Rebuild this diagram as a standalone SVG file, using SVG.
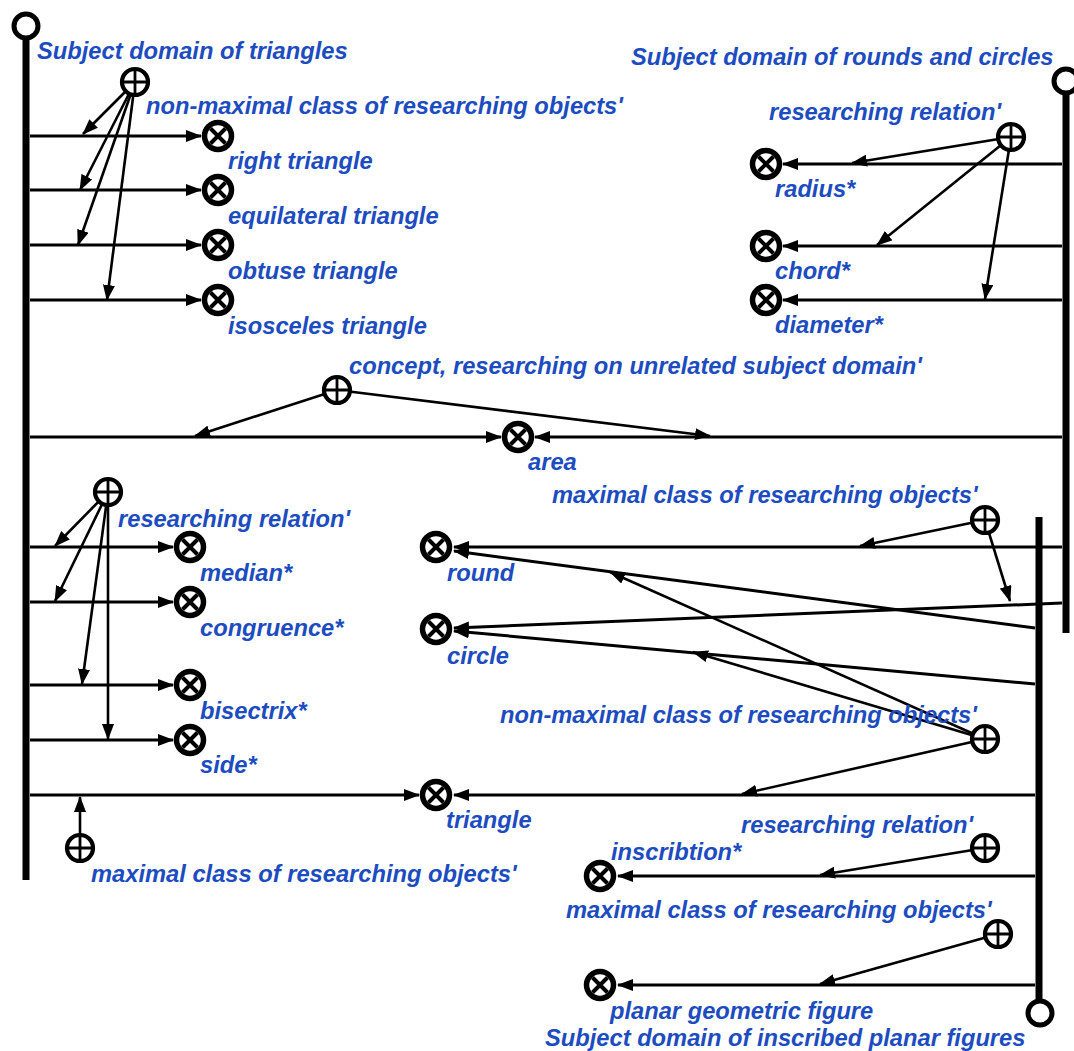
<svg xmlns="http://www.w3.org/2000/svg" xmlns:xlink="http://www.w3.org/1999/xlink" width="1074" height="1051" viewBox="0 0 1074 1051">
<style>
.bus{stroke:#000;stroke-width:7;fill:none}
.end{stroke:#000;stroke-width:5;fill:#fff}
.ln{stroke:#000;stroke-width:3;fill:none}
.dg{stroke:#000;stroke-width:2.6;fill:none}
.a{marker-end:url(#ah)}
.lbl{font-family:'Liberation Sans',Arial,sans-serif;font-weight:bold;font-style:italic;font-size:23.7px;fill:#1c4cc0}
</style>
<defs>
<marker id="ah" viewBox="0 0 16 12" refX="15" refY="6" markerWidth="16" markerHeight="12" markerUnits="userSpaceOnUse" orient="auto"><path d="M0,0 L16,6 L0,12 z" fill="#000"/></marker>
<g id="ox"><circle r="13.5" fill="#fff" stroke="#000" stroke-width="5.5"/><path d="M-7.5,-7.5 L7.5,7.5 M7.5,-7.5 L-7.5,7.5" stroke="#000" stroke-width="4"/></g>
<g id="op"><circle r="13" fill="#fff" stroke="#000" stroke-width="4.2"/><path d="M-12,0 H12 M0,-12 V12" stroke="#000" stroke-width="2.8"/></g>
</defs>
<rect width="1074" height="1051" fill="#fff"/>

<g id="buses">
<path class="bus" d="M26,40 V880"/>
<circle class="end" cx="26" cy="26" r="12"/>
<path class="bus" d="M1066,94 V633"/>
<circle class="end" cx="1066" cy="81" r="12"/>
<path class="bus" d="M1039,517 V999"/>
<circle class="end" cx="1040" cy="1013" r="12"/>
<text class="lbl" x="37" y="59">Subject domain of triangles</text>
<text class="lbl" x="631" y="65">Subject domain of rounds and circles</text>
<text class="lbl" x="545" y="1046">Subject domain of inscribed planar figures</text>
</g>

<g id="connectors">
<path class="ln a" d="M30,136 H201"/>
<path class="ln a" d="M30,190 H201"/>
<path class="ln a" d="M30,245 H201"/>
<path class="ln a" d="M30,300 H201"/>
<path class="dg a" d="M135,82 L83,134"/>
<path class="dg a" d="M135,82 L80,190"/>
<path class="dg a" d="M135,82 L78,245"/>
<path class="dg a" d="M135,82 L107,300"/>

<path class="ln a" d="M1062,164 H783"/>
<path class="ln a" d="M1062,246 H783"/>
<path class="ln a" d="M1062,300 H783"/>
<path class="dg a" d="M1011,137 L852,163"/>
<path class="dg a" d="M1011,137 L877,245"/>
<path class="dg a" d="M1011,137 L985,299"/>

<path class="ln a" d="M30,437 H501"/>
<path class="ln a" d="M1062,437 H535"/>
<path class="dg a" d="M337,390 L195,436"/>
<path class="dg a" d="M337,390 L710,436"/>

<path class="ln a" d="M30,547 H173"/>
<path class="ln a" d="M30,602 H173"/>
<path class="ln a" d="M30,685 H173"/>
<path class="ln a" d="M30,740 H173"/>
<path class="dg a" d="M108,492 L55,546"/>
<path class="dg a" d="M108,492 L55,601"/>
<path class="dg a" d="M108,492 L82,684"/>
<path class="dg a" d="M108,492 L108,739"/>
<path class="ln a" d="M30,795 H419"/>
<path class="dg a" d="M80,848 V797"/>

<path class="ln a" d="M1062,547 H454"/>
<path class="ln a" d="M1035,628 L454,551"/>
<path class="ln a" d="M1062,603 L454,628"/>
<path class="ln a" d="M1035,684 L454,631"/>
<path class="dg a" d="M985,520 L860,546"/>
<path class="dg a" d="M985,520 L1010,601"/>
<path class="dg a" d="M985,739 L610,572"/>
<path class="dg a" d="M985,739 L693,652"/>
<path class="ln a" d="M1035,795 H454"/>
<path class="dg a" d="M985,739 L742,794"/>

<path class="ln a" d="M1035,876 H618"/>
<path class="dg a" d="M985,848 L820,875"/>
<path class="ln a" d="M1035,985 H618"/>
<path class="dg a" d="M998,934 L820,984"/>
</g>

<g id="n-nonmax1"><use xlink:href="#op" x="135" y="82"/><text class="lbl" x="146" y="114">non-maximal class of researching objects'</text></g>
<g id="n-right"><use xlink:href="#ox" x="218" y="136"/><text class="lbl" x="228" y="169">right triangle</text></g>
<g id="n-equilateral"><use xlink:href="#ox" x="218" y="190"/><text class="lbl" x="228" y="224">equilateral triangle</text></g>
<g id="n-obtuse"><use xlink:href="#ox" x="218" y="245"/><text class="lbl" x="228" y="279">obtuse triangle</text></g>
<g id="n-isosceles"><use xlink:href="#ox" x="218" y="300"/><text class="lbl" x="228" y="334">isosceles triangle</text></g>

<g id="n-rel1"><use xlink:href="#op" x="1011" y="137"/><text class="lbl" x="769" y="120">researching relation'</text></g>
<g id="n-radius"><use xlink:href="#ox" x="766" y="164"/><text class="lbl" x="775" y="197">radius*</text></g>
<g id="n-chord"><use xlink:href="#ox" x="766" y="246"/><text class="lbl" x="775" y="279">chord*</text></g>
<g id="n-diameter"><use xlink:href="#ox" x="766" y="300"/><text class="lbl" x="775" y="333">diameter*</text></g>

<g id="n-concept"><use xlink:href="#op" x="337" y="390"/><text class="lbl" x="349" y="374">concept, researching on unrelated subject domain'</text></g>
<g id="n-area"><use xlink:href="#ox" x="518" y="437"/><text class="lbl" x="528" y="470">area</text></g>

<g id="n-rel2"><use xlink:href="#op" x="108" y="492"/><text class="lbl" x="118" y="527">researching relation'</text></g>
<g id="n-median"><use xlink:href="#ox" x="190" y="547"/><text class="lbl" x="200" y="581">median*</text></g>
<g id="n-congruence"><use xlink:href="#ox" x="190" y="602"/><text class="lbl" x="200" y="636">congruence*</text></g>
<g id="n-bisectrix"><use xlink:href="#ox" x="190" y="685"/><text class="lbl" x="200" y="719">bisectrix*</text></g>
<g id="n-side"><use xlink:href="#ox" x="190" y="740"/><text class="lbl" x="200" y="773">side*</text></g>
<g id="n-triangle"><use xlink:href="#ox" x="436" y="795"/><text class="lbl" x="446" y="828">triangle</text></g>
<g id="n-max1"><use xlink:href="#op" x="80" y="848"/><text class="lbl" x="91" y="882">maximal class of researching objects'</text></g>

<g id="n-max2"><use xlink:href="#op" x="985" y="520"/><text class="lbl" x="552" y="503">maximal class of researching objects'</text></g>
<g id="n-round"><use xlink:href="#ox" x="436" y="547"/><text class="lbl" x="447" y="581">round</text></g>
<g id="n-circle"><use xlink:href="#ox" x="436" y="629"/><text class="lbl" x="447" y="664">circle</text></g>
<g id="n-nonmax2"><use xlink:href="#op" x="985" y="739"/><text class="lbl" x="500" y="723">non-maximal class of researching objects'</text></g>

<g id="n-rel3"><use xlink:href="#op" x="985" y="848"/><text class="lbl" x="741" y="833">researching relation'</text></g>
<g id="n-inscription"><use xlink:href="#ox" x="600" y="876"/><text class="lbl" x="611" y="860">inscribtion*</text></g>
<g id="n-max3"><use xlink:href="#op" x="998" y="934"/><text class="lbl" x="566" y="918">maximal class of researching objects'</text></g>
<g id="n-planar"><use xlink:href="#ox" x="600" y="985"/><text class="lbl" x="610" y="1019">planar geometric figure</text></g>
</svg>
